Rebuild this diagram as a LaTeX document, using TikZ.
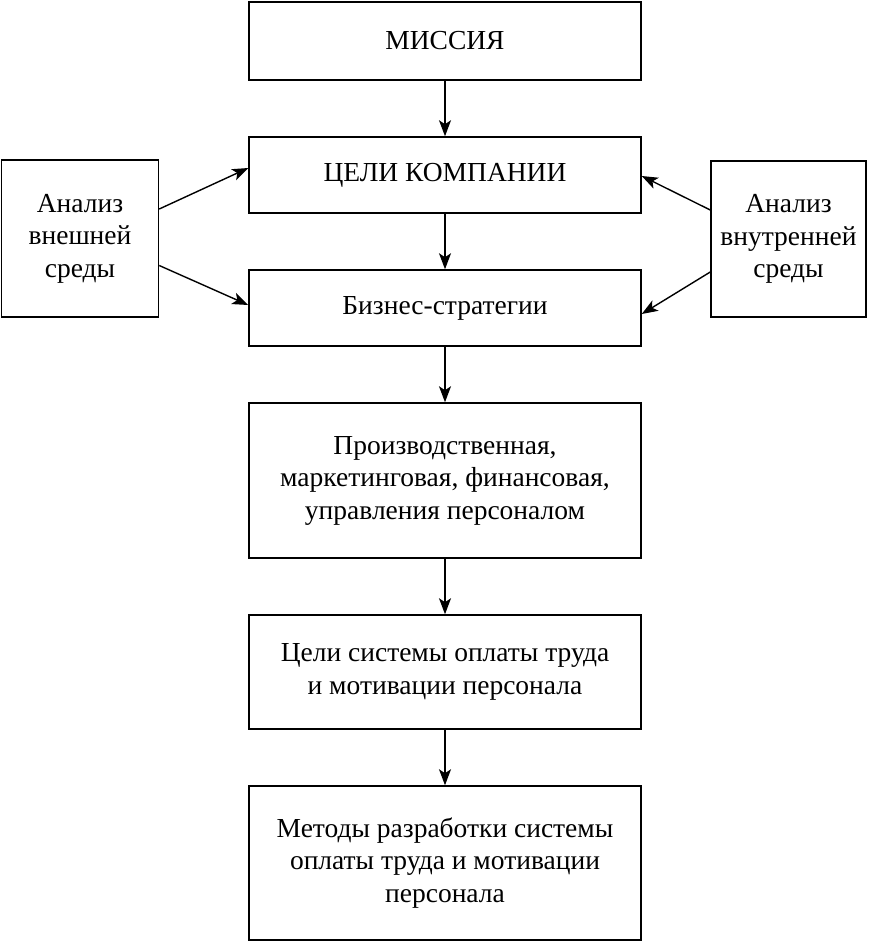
\documentclass[tikz,border=0pt]{standalone}
\usepackage{fontspec}
\setmainfont{Liberation Serif}
\usetikzlibrary{arrows.meta}
\begin{document}
\begin{tikzpicture}[x=1pt,y=-1pt,
  box/.style={draw,line width=1.5pt,rectangle,align=center,inner sep=0pt,
    font=\fontsize{27.5}{32.5}\selectfont},
  arr/.style={line width=1.4pt,-{Stealth[length=16pt,width=12pt,inset=4pt]}}]
\useasboundingbox (0,0) rectangle (868,943);
\node[box,minimum width=392,minimum height=78] (mission) at (445,41) {МИССИЯ};
\node[box,minimum width=392,minimum height=76] (goals) at (445,175) {ЦЕЛИ КОМПАНИИ};
\node[box,minimum width=392,minimum height=76] (biz) at (445,308) {Бизнес-стратегии};
\node[box,minimum width=392,minimum height=155] (func) at (445,480.5) {Производственная,\\маркетинговая, финансовая,\\управления персоналом};
\node[box,minimum width=392,minimum height=114] (paygoals) at (445,672) {Цели системы оплаты труда\\и мотивации персонала};
\node[box,minimum width=392,minimum height=154] (methods) at (445,863) {Методы разработки системы\\оплаты труда и мотивации\\персонала};
\node[box,minimum width=157,minimum height=157] (ext) at (80,238.5) {Анализ\\внешней\\среды};
\node[box,minimum width=155,minimum height=156] (int) at (788.5,239) {Анализ\\внутренней\\среды};
\draw[arr] (mission.south) -- (goals.north);
\draw[arr] (goals.south) -- (biz.north);
\draw[arr] (biz.south) -- (func.north);
\draw[arr] (func.south) -- (paygoals.north);
\draw[arr] (paygoals.south) -- (methods.north);
\draw[arr] ([yshift=29.5]ext.east) -- ([yshift=7]goals.west);
\draw[arr] ([yshift=-27]ext.east) -- ([yshift=3]biz.west);
\draw[arr] ([yshift=29]int.west) -- ([yshift=-1]goals.east);
\draw[arr] ([yshift=-33]int.west) -- ([yshift=-6]biz.east);
\end{tikzpicture}
\end{document}
